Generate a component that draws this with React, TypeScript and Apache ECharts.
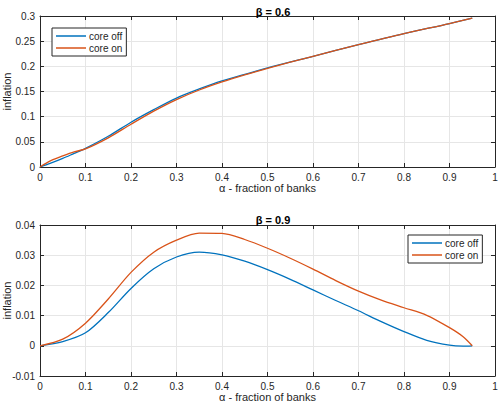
import React, { useEffect, useRef } from "react";
import * as echarts from "echarts";

const xTop = [0, 0.025, 0.05, 0.075, 0.1, 0.15, 0.2, 0.25, 0.3, 0.35, 0.4, 0.45, 0.5, 0.6, 0.7, 0.8, 0.9, 0.95];
const topCoreOff = [0, 0.008, 0.017, 0.027, 0.037, 0.061, 0.089, 0.114, 0.137, 0.155, 0.171, 0.184, 0.197, 0.22, 0.243, 0.265, 0.285, 0.296];
const topCoreOn = [0, 0.013, 0.022, 0.03, 0.036, 0.058, 0.085, 0.111, 0.134, 0.153, 0.169, 0.183, 0.196, 0.22, 0.243, 0.265, 0.285, 0.296];

const xBot = [0, 0.05, 0.1, 0.15, 0.2, 0.25, 0.3, 0.35, 0.4, 0.45, 0.5, 0.55, 0.6, 0.65, 0.7, 0.75, 0.8, 0.85, 0.9, 0.93, 0.95];
const botCoreOff = [0, 0.0014, 0.0043, 0.011, 0.019, 0.0255, 0.0294, 0.031, 0.0301, 0.028, 0.0252, 0.022, 0.0185, 0.015, 0.0116, 0.008, 0.0047, 0.0018, 0.0002, -0.0001, 0];
const botCoreOn = [0, 0.0022, 0.0075, 0.0155, 0.0243, 0.031, 0.035, 0.0373, 0.0372, 0.0352, 0.0323, 0.029, 0.0254, 0.0216, 0.0181, 0.0151, 0.0126, 0.0101, 0.006, 0.003, 0];

const seriesNames = ["core off", "core on"];
const colors = ["#0072BD", "#D95319"];
const titles = ["β = 0.6", "β = 0.9"];
const xLabel = "α - fraction of banks";
const yLabel = "inflation";

const FONT = "Liberation Sans";
const AX = "#262626";

export default function App() {
  const ref = useRef<HTMLDivElement>(null);
  useEffect(() => {
    const chart = echarts.init(ref.current!, null, { renderer: "svg" });
    const pair = (xs: number[], ys: number[]) => xs.map((x, i) => [x, ys[i]]);
    const grids = [
      { left: 40, right: 6, top: 16, height: 151, containLabel: false, outerBoundsMode: "none" },
      { left: 40, right: 6, top: 225, height: 151, containLabel: false, outerBoundsMode: "none" },
    ];
    const xAxes: any[] = [];
    const yAxes: any[] = [];
    const yCfg = [
      { min: 0, max: 0.3, interval: 0.05 },
      { min: -0.01, max: 0.04, interval: 0.01 },
    ];
    grids.forEach((_, g) => {
      const common = {
        gridIndex: g,
        axisLine: { show: true, onZero: false, lineStyle: { color: AX, width: 1 } },
        axisTick: { show: true, inside: true, length: 4, lineStyle: { color: AX } },
      };
      xAxes.push({
        ...common,
        type: "value",
        min: 0,
        max: 1,
        interval: 0.1,
        position: "bottom",
        name: xLabel,
        nameLocation: "middle",
        nameGap: 15,
        nameMoveOverlap: false,
        nameTextStyle: { color: AX, fontSize: 11, lineHeight: 11, fontFamily: FONT, verticalAlign: "top" },
        axisLabel: { color: AX, fontSize: 10, lineHeight: 10, fontFamily: FONT, margin: 5 },
        splitLine: { show: true, lineStyle: { color: "#e6e6e6", width: 1 } },
      });
      xAxes.push({
        ...common,
        type: "value",
        min: 0,
        max: 1,
        interval: 0.1,
        position: "top",
        axisLabel: { show: false },
        splitLine: { show: false },
      });
      yAxes.push({
        ...common,
        type: "value",
        ...yCfg[g],
        position: "left",
        name: yLabel,
        nameLocation: "middle",
        nameGap: 28,
        nameMoveOverlap: false,
        nameTextStyle: { color: AX, fontSize: 11, fontFamily: FONT },
        axisLabel: { color: AX, fontSize: 10, fontFamily: FONT, margin: 5 },
        splitLine: { show: true, lineStyle: { color: "#e6e6e6", width: 1 } },
      });
      yAxes.push({
        ...common,
        type: "value",
        ...yCfg[g],
        position: "right",
        axisLabel: { show: false },
        splitLine: { show: false },
      });
    });
    const mk = (name: string, color: string, data: number[][], g: number) => ({
      type: "line",
      name,
      xAxisIndex: g * 2,
      yAxisIndex: g * 2,
      data,
      smooth: 0.3,
      showSymbol: false,
      symbol: "none",
      lineStyle: { color, width: 1.3 },
      itemStyle: { color },
    });
    const legendBase = {
      orient: "vertical",
      data: seriesNames,
      icon: "rect",
      itemWidth: 30,
      itemHeight: 1.5,
      itemGap: 2,
      padding: [3, 4, 3, 4],
      borderColor: AX,
      borderWidth: 1,
      backgroundColor: "#fff",
      textStyle: { color: AX, fontSize: 10, fontFamily: FONT, padding: [0, 0, 0, -2] },
    };
    chart.setOption({
      animation: false,
      backgroundColor: "#fff",
      title: titles.map((t, i) => ({
        text: t,
        left: 268,
        top: i === 0 ? 1 : 209,
        textAlign: "center",
        textStyle: { fontSize: 11, fontWeight: "bold", color: "#000", fontFamily: FONT },
      })),
      legend: [
        { ...legendBase, left: 52, top: 28 },
        { ...legendBase, left: 408, top: 235 },
      ],
      grid: grids,
      xAxis: xAxes,
      yAxis: yAxes,
      series: [
        mk(seriesNames[0], colors[0], pair(xTop, topCoreOff), 0),
        mk(seriesNames[1], colors[1], pair(xTop, topCoreOn), 0),
        mk(seriesNames[0], colors[0], pair(xBot, botCoreOff), 1),
        mk(seriesNames[1], colors[1], pair(xBot, botCoreOn), 1),
      ],
    });
    return () => chart.dispose();
  }, []);
  return <div ref={ref} style={{ width: 501, height: 401, position: "absolute", left: 0, top: 0 }} />;
}
